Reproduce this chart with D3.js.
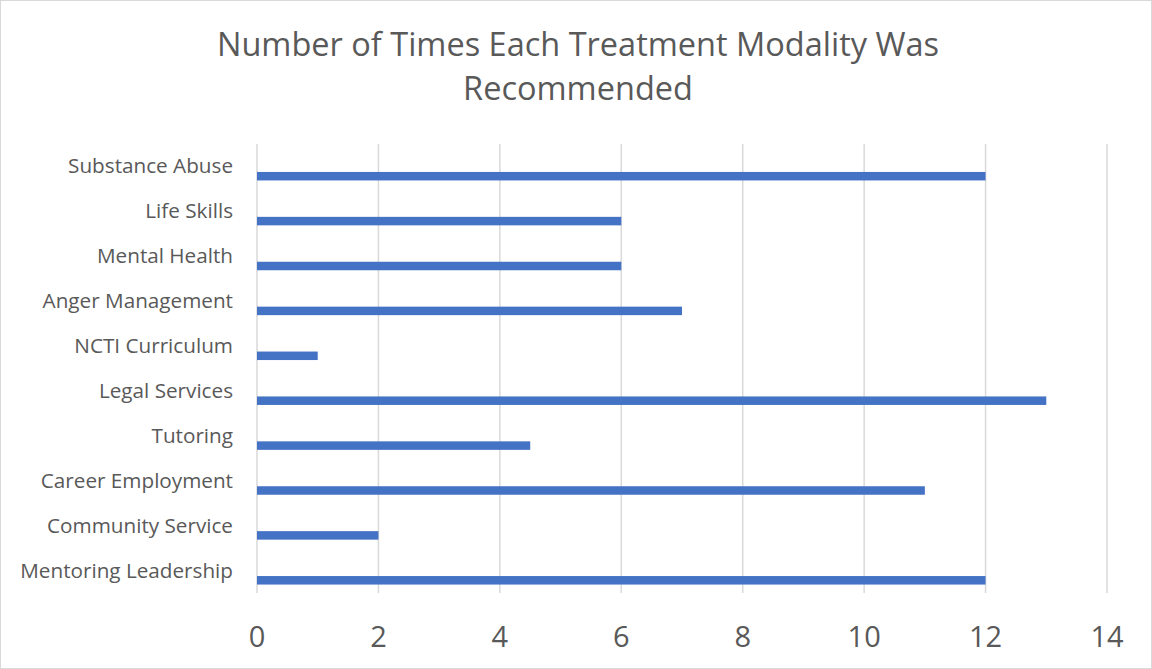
<!DOCTYPE html>
<html>
<head>
<meta charset="utf-8">
<script src="https://cdn.jsdelivr.net/npm/d3@7"></script>
<style>
  body { margin: 0; background: #fff; }
</style>
</head>
<body>
<svg id="chart"></svg>
<script>
var categories = ["Substance Abuse", "Life Skills", "Mental Health", "Anger Management", "NCTI Curriculum",
                  "Legal Services", "Tutoring", "Career Employment", "Community Service", "Mentoring Leadership"];
var values = [12, 6, 6, 7, 1, 13, 4.5, 11, 2, 12];
var ticks = [0, 2, 4, 6, 8, 10, 12, 14];
var titleLines = ["Number of Times Each Treatment Modality Was", "Recommended"];

var W = 1152, H = 669;
var plotLeft = 257, plotRight = 1107, plotTop = 144, plotBottom = 593;

var svg = d3.select("#chart")
            .attr("width", W)
            .attr("height", H);

svg.append("rect")
    .attr("x", 0.5).attr("y", 0.5)
    .attr("width", W - 1).attr("height", H - 1)
    .attr("fill", "#fff")
    .attr("stroke", "#d9d9d9");

var x = d3.scaleLinear().domain([0, 14]).range([plotLeft, plotRight]);
var y = d3.scaleBand().domain(categories).range([plotTop, plotBottom]);

// gridlines
svg.selectAll("line.grid")
    .data(ticks)
    .enter()
    .append("line")
    .attr("class", "grid")
    .attr("x1", function(d){ return x(d); })
    .attr("x2", function(d){ return x(d); })
    .attr("y1", plotTop)
    .attr("y2", plotBottom)
    .attr("stroke", "#d9d9d9")
    .attr("stroke-width", 1.5);

// bars (sit in the lower half of each band)
svg.selectAll("rect.bar")
    .data(values)
    .enter()
    .append("rect")
    .attr("class", "bar")
    .attr("x", x(0))
    .attr("y", function(d, i){ return y(categories[i]) + y.bandwidth() / 2 + 5.5; })
    .attr("width", function(d){ return x(d) - x(0); })
    .attr("height", 8.5)
    .attr("fill", "#4472C4");

// category labels
svg.selectAll("text.cat")
    .data(categories)
    .enter()
    .append("text")
    .attr("class", "cat")
    .attr("x", 233)
    .attr("y", function(d){ return y(d) + y.bandwidth() / 2 + 7; })
    .attr("text-anchor", "end")
    .style("font-family", "Open Sans")
    .style("font-size", "20.7px")
    .style("fill", "#595959")
    .text(function(d){ return d; });

// x tick labels
svg.selectAll("text.tick")
    .data(ticks)
    .enter()
    .append("text")
    .attr("class", "tick")
    .attr("x", function(d){ return x(d); })
    .attr("y", 647)
    .attr("text-anchor", "middle")
    .style("font-family", "Open Sans")
    .style("font-size", "29px")
    .style("fill", "#595959")
    .text(function(d){ return d; });

// title
svg.selectAll("text.title")
    .data(titleLines)
    .enter()
    .append("text")
    .attr("class", "title")
    .attr("x", 578)
    .attr("y", function(d, i){ return 56 + i * 44; })
    .attr("text-anchor", "middle")
    .style("font-family", "Open Sans")
    .style("font-size", "32.5px")
    .style("fill", "#595959")
    .text(function(d){ return d; });
</script>
</body>
</html>
